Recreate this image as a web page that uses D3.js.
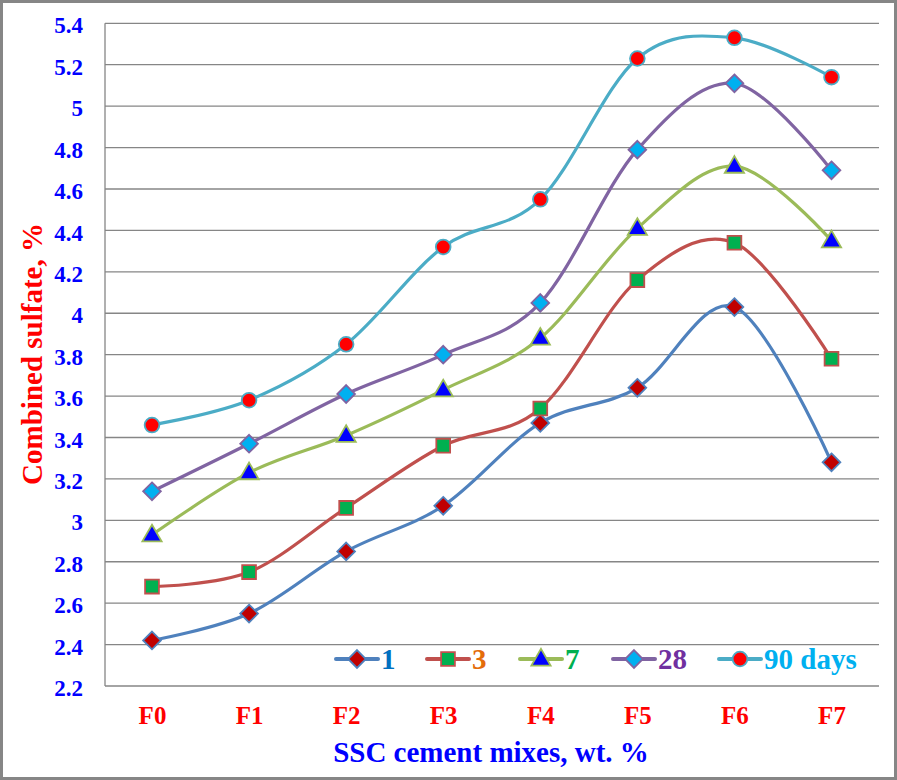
<!DOCTYPE html>
<html>
<head>
<meta charset="utf-8">
<script src="https://cdn.jsdelivr.net/npm/d3@7"></script>
<style>
  html, body { margin: 0; padding: 0; background: #fff; }
  svg { display: block; }
  text { font-family: "Liberation Serif", "Times New Roman", serif; font-weight: bold; }
</style>
</head>
<body>
<svg id="chart" width="897" height="780"></svg>
<script>
// ---- data ----
const categories = ["F0", "F1", "F2", "F3", "F4", "F5", "F6", "F7"];
const yTicks = [2.2, 2.4, 2.6, 2.8, 3, 3.2, 3.4, 3.6, 3.8, 4, 4.2, 4.4, 4.6, 4.8, 5, 5.2, 5.4];
const seriesNames = ["1", "3", "7", "28", "90 days"];
const day1  = [2.42, 2.55, 2.85, 3.07, 3.47, 3.64, 4.03, 3.28];
const day3  = [2.68, 2.75, 3.06, 3.36, 3.54, 4.16, 4.34, 3.78];
const day7  = [2.93, 3.23, 3.41, 3.63, 3.88, 4.41, 4.71, 4.35];
const day28 = [3.14, 3.37, 3.61, 3.80, 4.05, 4.79, 5.11, 4.69];
const day90 = [3.46, 3.58, 3.85, 4.32, 4.55, 5.23, 5.33, 5.14];
const seriesValues = [day1, day3, day7, day28, day90];

// ---- styles ----
const lineColors   = ["#4F81BD", "#C0504D", "#9BBB59", "#8064A2", "#4BACC6"];
const markerFills  = ["#C00000", "#00B050", "#0000FF", "#00B0F0", "#FF0000"];
const markerShapes = [d3.symbolDiamond2, d3.symbolSquare, d3.symbolTriangle, d3.symbolDiamond2, d3.symbolCircle];
const markerSizes  = [200, 190, 160, 200, 170];
const legendColors = ["#0070C0", "#E46C0A", "#00B050", "#7030A0", "#00B0F0"];

const svg = d3.select("#chart");
const W = 897, H = 780;

// outer border
svg.append("rect").attr("x", 1.5).attr("y", 1.5).attr("width", W - 3).attr("height", H - 3)
  .attr("fill", "#fff").attr("stroke", "#868686").attr("stroke-width", 3);

const plotLeft = 105, plotRight = 879, plotTop = 23.3, plotBottom = 686;

const x = d3.scalePoint().domain(categories).range([152, 831.5]);
const y = d3.scaleLinear().domain([2.2, 5.4]).range([plotBottom, plotTop]);

// gridlines
svg.append("g").selectAll("line").data(yTicks).join("line")
  .attr("x1", plotLeft).attr("x2", plotRight)
  .attr("y1", d => y(d)).attr("y2", d => y(d))
  .attr("stroke", "#868686").attr("stroke-width", 1.3);

// y axis line
svg.append("line").attr("x1", plotLeft).attr("x2", plotLeft)
  .attr("y1", plotTop).attr("y2", plotBottom)
  .attr("stroke", "#868686").attr("stroke-width", 1.3);

// y axis
const yAxis = d3.axisLeft(y).tickValues(yTicks).tickSize(0).tickPadding(0)
  .tickFormat(d => d3.format("")(+d.toFixed(1)));
const gy = svg.append("g").attr("transform", `translate(83,0)`).call(yAxis);
gy.attr("font-family", null);
gy.select(".domain").remove();
gy.selectAll("text").attr("fill", "#0000FF").style("font-size", "23px")
  .style("font-family", "Liberation Serif").style("font-weight", "bold").attr("dy", "0.42em");

// x axis labels
const xAxis = d3.axisBottom(x).tickSize(0).tickPadding(0);
const gx = svg.append("g").attr("transform", `translate(0,706)`).call(xAxis);
gx.attr("font-family", null);
gx.select(".domain").remove();
gx.selectAll("text").attr("fill", "#FF0000").style("font-size", "25px")
  .style("font-family", "Liberation Serif").style("font-weight", "bold").attr("dy", "0.7em");

// axis titles
svg.append("text").attr("x", 491).attr("y", 762).attr("text-anchor", "middle")
  .attr("fill", "#0000FF").style("font-size", "29px").text("SSC cement mixes, wt. %");
svg.append("text").attr("transform", "translate(42,354) rotate(-90)").attr("text-anchor", "middle")
  .attr("fill", "#FF0000").style("font-size", "29px").text("Combined sulfate, %");

// lines
const line = d3.line().x((d, i) => x(categories[i])).y(d => y(d)).curve(d3.curveCatmullRom.alpha(0));
seriesValues.forEach((vals, s) => {
  svg.append("path").datum(vals).attr("d", line)
    .attr("fill", "none").attr("stroke", lineColors[s]).attr("stroke-width", 3.2)
    .attr("stroke-linecap", "round");
});
// markers
function marker(g, s, cx, cy) {
  const sym = d3.symbol().type(markerShapes[s]).size(markerSizes[s]);
  let ty = cy;
  if (markerShapes[s] === d3.symbolTriangle) ty = cy + 1;
  g.append("path").attr("d", sym()).attr("transform", `translate(${cx},${ty})`)
    .attr("fill", markerFills[s]).attr("stroke", lineColors[s]).attr("stroke-width", 1.8);
}
seriesValues.forEach((vals, s) => {
  const g = svg.append("g");
  vals.forEach((v, i) => marker(g, s, x(categories[i]), y(v)));
});

// legend
const legendX = [336, 427, 520, 613, 719];
const legendY = 659;
seriesNames.forEach((name, s) => {
  const g = svg.append("g");
  g.append("line").attr("x1", legendX[s]).attr("x2", legendX[s] + 42)
    .attr("y1", legendY).attr("y2", legendY)
    .attr("stroke", lineColors[s]).attr("stroke-width", 4).attr("stroke-linecap", "round");
  marker(g, s, legendX[s] + 21, legendY);
  g.append("text").attr("x", legendX[s] + 45).attr("y", legendY + 10)
    .attr("fill", legendColors[s]).style("font-size", "29px").text(name);
});
</script>
</body>
</html>
